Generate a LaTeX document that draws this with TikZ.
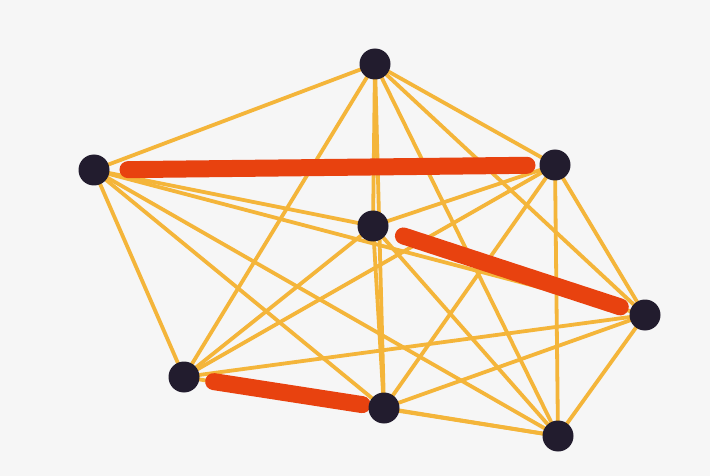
\documentclass[tikz,border=0pt]{standalone}
\begin{document}
\begin{tikzpicture}[x=1pt,y=-1pt,
  ball/.style={circle,fill=ballc,inner sep=0pt,minimum size=31pt},
  stick/.style={draw=stickc,line width=3.8pt},
  redstick/.style={draw=redc,line width=17pt,line cap=round}]
\definecolor{ballc}{HTML}{221C2E}
\definecolor{stickc}{HTML}{F4B53A}
\definecolor{redc}{HTML}{E8420F}
\definecolor{bgc}{HTML}{F6F6F6}
\fill[bgc] (0,0) rectangle (710,476);
\useasboundingbox (0,0) rectangle (710,476);
\coordinate (A) at (375,64);
\coordinate (B) at (94,170);
\coordinate (C) at (555,165);
\coordinate (D) at (373,226);
\coordinate (E) at (645,315);
\coordinate (F) at (184,377);
\coordinate (G) at (384,408);
\coordinate (H) at (558,436);
\foreach \u/\v in {A/B,A/C,A/D,A/E,A/F,A/G,A/H,
                   B/D,B/E,B/F,B/G,B/H,
                   C/D,C/E,C/F,C/G,C/H,
                   D/F,D/G,D/H,
                   E/F,E/G,E/H,
                   F/H,G/H}
  \draw[stick] (\u) -- (\v);
\draw[redstick,shorten <=34pt,shorten >=28pt] (B) -- (C);
\draw[redstick,shorten <=32pt,shorten >=26pt] (D) -- (E);
\draw[redstick,shorten <=30pt,shorten >=22pt] (F) -- (G);
\foreach \n in {A,B,C,D,E,F,G,H}
  \node[ball] (n\n) at (\n) {};
\end{tikzpicture}
\end{document}
